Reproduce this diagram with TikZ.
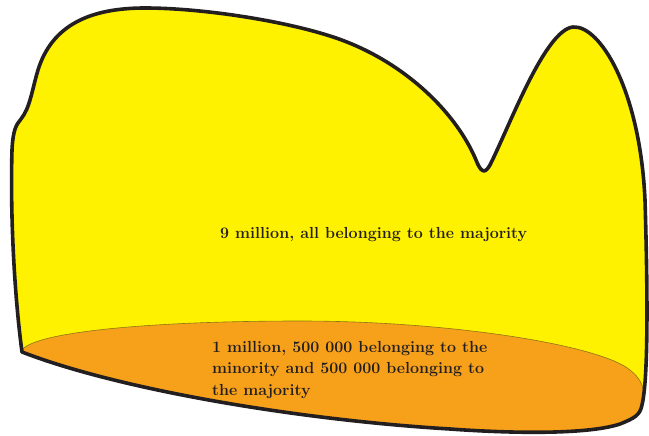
\documentclass[tikz,border=0pt]{standalone}
\usepackage{tikz}
\definecolor{blobyellow}{RGB}{255,242,0}
\definecolor{bloborange}{RGB}{247,160,26}
\definecolor{inkdark}{RGB}{35,31,32}
\definecolor{rimolive}{RGB}{140,120,20}

\begin{document}
\begin{tikzpicture}[x=1pt, y=-1pt,
  label/.style={text=inkdark, font=\fontsize{16}{21.5}\selectfont\bfseries, inner sep=0pt}]
  \useasboundingbox (0,0) rectangle (649,436);

  % Outer shape with the orange part inside
  \draw[line width=3.6pt, draw=inkdark, fill=blobyellow, line join=round,
    path picture={
      \fill[bloborange] (22,350) .. controls (35,332) and (150,321) .. (300,321)
        .. controls (450,321) and (600,345) .. (630,370)
        .. controls (640,378) and (643,385) .. (644,394)
        -- (670,394) -- (670,460) -- (-10,460) -- (-10,350) -- cycle;
      \draw[rimolive, line width=0.6pt] (22,350) .. controls (35,332) and (150,321) .. (300,321)
        .. controls (450,321) and (600,345) .. (630,370)
        .. controls (640,378) and (643,385) .. (644,394);
    }]
    (22,352) .. controls (15,300) and (10,220) .. (12,150)
    .. controls (13,130) and (16,125) .. (21,119)
    .. controls (30,108) and (32,90) .. (38,70)
    .. controls (52,25) and (90,8) .. (145,8)
    .. controls (200,8) and (280,20) .. (330,36)
    .. controls (400,58) and (455,110) .. (476,160)
    .. controls (480,170) and (484,176) .. (490,165)
    .. controls (510,125) and (545,30) .. (573,27)
    .. controls (600,25) and (640,90) .. (645,200)
    .. controls (648,300) and (648,380) .. (642,405)
    .. controls (640,415) and (635,418) .. (620,424)
    .. controls (590,434) and (520,434) .. (450,429)
    .. controls (300,420) and (120,390) .. (22,352) -- cycle;

  % Labels
  \node[label, anchor=west] (majority) at (220,235) {9 million, all belonging to the majority};
  \node[label, anchor=north west, align=left] (mixed) at (212,341)
    {1 million, 500 000 belonging to the\\minority and 500 000 belonging to\\the majority};
\end{tikzpicture}
\end{document}
